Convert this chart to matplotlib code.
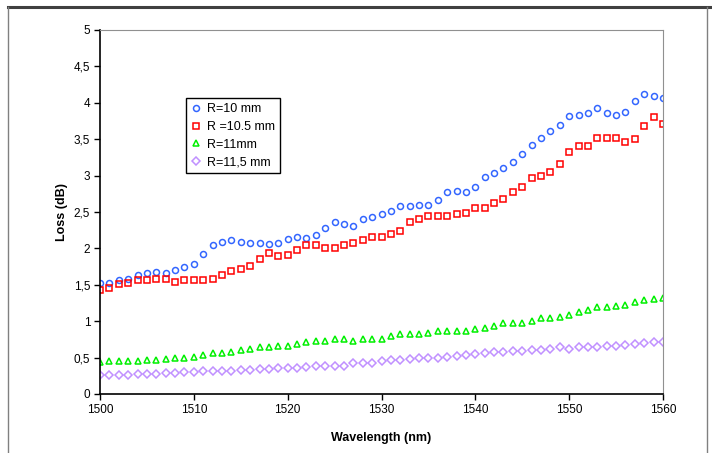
import matplotlib.pyplot as plt
from matplotlib.lines import Line2D

plt.rcParams['font.family'] = ['Liberation Sans', 'DejaVu Sans']

# wavelength axis (nm), one reading per nm
wavelength = list(range(1500, 1561))

loss_r10 = [1.53, 1.53, 1.56, 1.58, 1.64, 1.66, 1.67, 1.66, 1.70, 1.75,
            1.79, 1.92, 2.04, 2.09, 2.11, 2.09, 2.08, 2.07, 2.06, 2.08,
            2.13, 2.15, 2.14, 2.18, 2.28, 2.36, 2.34, 2.31, 2.40, 2.43,
            2.47, 2.52, 2.58, 2.58, 2.60, 2.60, 2.67, 2.78, 2.79, 2.78,
            2.85, 2.98, 3.04, 3.10, 3.19, 3.30, 3.42, 3.52, 3.61, 3.70,
            3.82, 3.83, 3.86, 3.93, 3.86, 3.83, 3.87, 4.03, 4.12, 4.09,
            4.06]

loss_r105 = [1.43, 1.46, 1.51, 1.53, 1.57, 1.57, 1.58, 1.58, 1.54, 1.56,
             1.57, 1.56, 1.58, 1.64, 1.69, 1.72, 1.76, 1.85, 1.93, 1.90,
             1.91, 1.98, 2.04, 2.04, 2.00, 2.00, 2.04, 2.07, 2.11, 2.15,
             2.15, 2.20, 2.24, 2.36, 2.40, 2.44, 2.44, 2.45, 2.47, 2.49,
             2.56, 2.56, 2.63, 2.68, 2.77, 2.84, 2.97, 2.99, 3.05, 3.16,
             3.32, 3.41, 3.41, 3.51, 3.51, 3.51, 3.46, 3.50, 3.68, 3.81,
             3.71]

loss_r11 = [0.44, 0.45, 0.46, 0.46, 0.46, 0.47, 0.47, 0.48, 0.50, 0.50,
            0.51, 0.54, 0.57, 0.57, 0.58, 0.60, 0.62, 0.64, 0.65, 0.66,
            0.66, 0.68, 0.71, 0.73, 0.73, 0.75, 0.75, 0.73, 0.75, 0.76,
            0.76, 0.79, 0.82, 0.82, 0.82, 0.84, 0.87, 0.87, 0.87, 0.87,
            0.89, 0.91, 0.94, 0.97, 0.97, 0.97, 1.00, 1.04, 1.04, 1.06,
            1.09, 1.13, 1.15, 1.20, 1.20, 1.21, 1.22, 1.26, 1.29, 1.30,
            1.32]

loss_r115 = [0.26, 0.26, 0.26, 0.26, 0.28, 0.28, 0.28, 0.29, 0.29, 0.30,
             0.30, 0.31, 0.32, 0.32, 0.32, 0.33, 0.33, 0.35, 0.35, 0.36,
             0.36, 0.36, 0.37, 0.39, 0.39, 0.39, 0.39, 0.42, 0.43, 0.43,
             0.45, 0.47, 0.47, 0.48, 0.50, 0.50, 0.50, 0.51, 0.52, 0.54,
             0.55, 0.57, 0.58, 0.58, 0.59, 0.59, 0.60, 0.61, 0.62, 0.64,
             0.62, 0.64, 0.64, 0.65, 0.66, 0.66, 0.67, 0.69, 0.70, 0.72,
             0.72]

y_ticks = [0, 0.5, 1, 1.5, 2, 2.5, 3, 3.5, 4, 4.5, 5]
y_tick_labels = ['0', '0,5', '1', '1,5', '2', '2,5', '3', '3,5', '4', '4,5', '5']
x_ticks = [1500, 1510, 1520, 1530, 1540, 1550, 1560]

series = [
    ('R=10 mm', loss_r10, 'o', '#3366FF', 4.3),
    ('R =10.5 mm', loss_r105, 's', '#FF0000', 4.6),
    ('R=11mm', loss_r11, '^', '#00F000', 5.0),
    ('R=11,5 mm', loss_r115, 'D', '#C090FF', 3.8),
]

fig = plt.figure(figsize=(7.12, 4.53), dpi=100)
ax = fig.add_axes([100 / 712, 1 - 394 / 453, 563 / 712, 364 / 453])

for name, vals, mk, col, ms in series:
    ax.plot(wavelength, vals, linestyle='none', marker=mk, markersize=ms,
            markerfacecolor='none', markeredgecolor=col, markeredgewidth=1.1,
            label=name)

ax.set_xlim(1500, 1560)
ax.set_ylim(0, 5)
ax.set_xticks(x_ticks)
ax.set_yticks(y_ticks)
ax.set_yticklabels(y_tick_labels)
ax.tick_params(axis='both', direction='out', length=4, width=1,
               labelsize=8.5, pad=3)

ax.spines['top'].set_color('#909090')
ax.spines['right'].set_color('#909090')
ax.spines['left'].set_color('black')
ax.spines['bottom'].set_color('black')
ax.spines['left'].set_linewidth(1.2)
ax.spines['bottom'].set_linewidth(1.2)

ax.set_xlabel('Wavelength (nm)', fontsize=9, fontweight='bold', labelpad=12)
ax.set_ylabel('Loss (dB)', fontsize=9, fontweight='bold', labelpad=4)

leg = ax.legend(loc='upper left', bbox_to_anchor=(0.153, 0.812),
                borderaxespad=0, fontsize=9, fancybox=False, framealpha=1,
                edgecolor='black', handlelength=0.8, handletextpad=0.5,
                labelspacing=0.45, borderpad=0.4)
leg.get_frame().set_linewidth(1.0)

# outer chart border
fig.add_artist(Line2D([8 / 712, 1], [1 - 7 / 453, 1 - 7 / 453],
                      color='#404040', linewidth=2.2))
fig.add_artist(Line2D([8 / 712, 8 / 712], [0, 1 - 7 / 453],
                      color='#808080', linewidth=1.0))
fig.add_artist(Line2D([707 / 712, 707 / 712], [0, 1 - 7 / 453],
                      color='#808080', linewidth=1.0))

fig.savefig('out.png', dpi=100)
